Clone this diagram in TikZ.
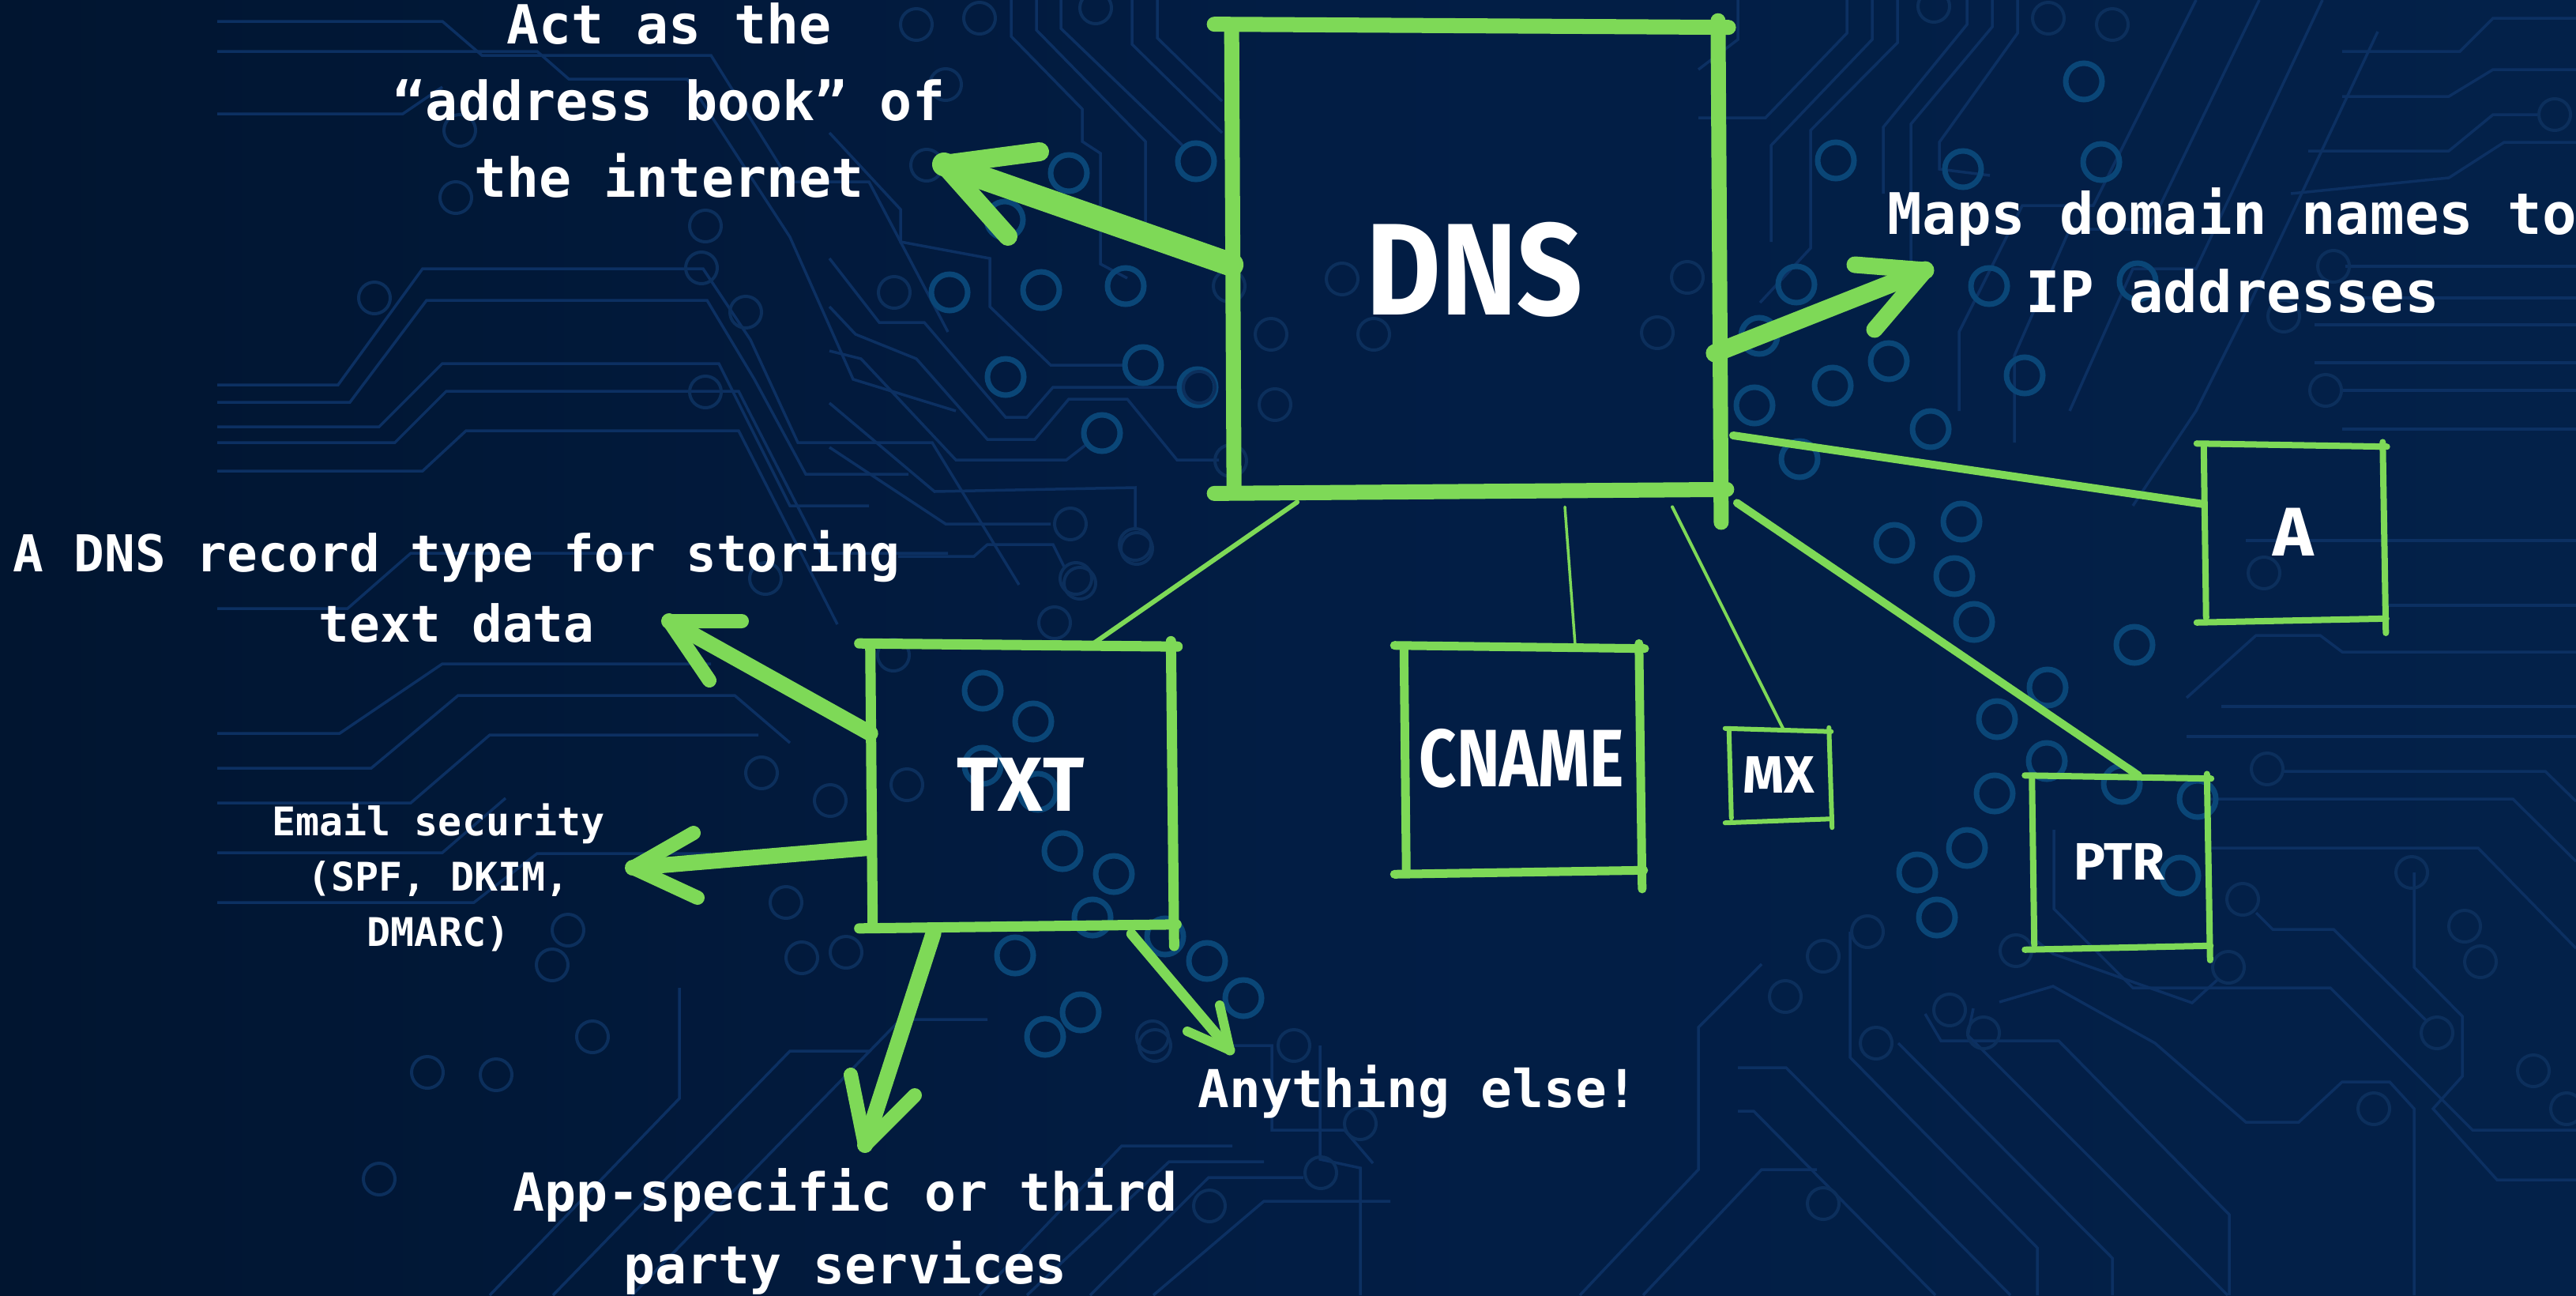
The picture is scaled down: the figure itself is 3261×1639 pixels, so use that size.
\documentclass[tikz,border=0pt]{standalone}
\usepackage{fontspec}
\usepackage{graphicx}
\usetikzlibrary{calc}
\newfontfamily\labfont{DejaVu Sans Mono}
\newfontfamily\boxfont{Fira Sans}
\definecolor{skgreen}{HTML}{7ED957}
\definecolor{bgL}{HTML}{011530}
\definecolor{bgM}{HTML}{021D44}
\definecolor{bgR}{HTML}{032149}
\definecolor{tracec}{HTML}{0C3062}
\definecolor{ringb}{HTML}{0A4677}
\definecolor{ringf}{HTML}{0C2F5C}
\newcommand\skbox[3]{%
  \draw[sk, line width=#2] ($(#1.north west)+(-#3,0)$) -- ($(#1.north east)+(0.6*#3,4)$);
  \draw[sk, line width=#2] ($(#1.south west)+(-#3,3)$) -- ($(#1.south east)+(0.5*#3,-2)$);
  \draw[sk, line width=#2] ($(#1.north west)+(0,3)$) -- ($(#1.south west)+(3,-3)$);
  \draw[sk, line width=#2] ($(#1.north east)+(0,-0.2*#3)$) -- ($(#1.south east)+(4,1.8*#3)$);
}
\begin{document}
\begin{tikzpicture}[x=0.01cm,y=-0.01cm,
  sk/.style={draw=skgreen, line cap=round, line join=round},
  conn/.style={draw=skgreen, line cap=round},
  arr/.style={draw=skgreen, line cap=round, line join=round},
  boxn/.style={inner sep=0pt, text=white, font=\boxfont\bfseries},
  lab/.style={inner sep=0pt, text=white, align=center},
  trc/.style={draw=tracec, line width=0.035cm},
  ringB/.style={draw=ringb, line width=0.07cm},
  ringF/.style={draw=ringf, line width=0.04cm}]
\useasboundingbox (0,0) rectangle (3261,1639);
\shade[left color=bgL, right color=bgR, middle color=bgM] (0,0) rectangle (3261,1639);

% ---------- circuit traces ----------
\foreach \p in {
 {(275,27) -- (560,27) -- (610,70) -- (900,70) -- (1000,230) -- (1100,230) -- (1200,420)},
 {(275,65) -- (680,65) -- (720,100) -- (870,100) -- (1000,300) -- (1080,480) -- (1210,520)},
 {(275,144) -- (510,144) -- (560,110)},
 {(275,487) -- (428,487) -- (535,340) -- (890,340) -- (950,430) -- (1010,560) -- (1180,560) -- (1290,740)},
 {(275,509) -- (443,509) -- (540,380) -- (895,380) -- (955,480) -- (1020,600) -- (1150,600)},
 {(275,540) -- (480,540) -- (560,460) -- (910,460) -- (1000,640) -- (1100,640)},
 {(275,560) -- (500,560) -- (565,495) -- (935,495) -- (1040,700) -- (1200,700)},
 {(275,596) -- (535,596) -- (590,545) -- (935,545) -- (1060,790)},
 {(275,770) -- (440,770) -- (520,700) -- (800,700)},
 {(275,928) -- (430,928) -- (560,840) -- (900,840)},
 {(275,972) -- (470,972) -- (580,880) -- (930,880) -- (1000,940)},
 {(275,1016) -- (520,1016) -- (620,930) -- (960,930)},
 {(275,1079) -- (560,1079) -- (640,1010)},
 {(275,1142) -- (600,1142) -- (680,1080) -- (900,1080)},
 {(1050,168) -- (1140,265) -- (1140,306) -- (1253,327) -- (1253,388) -- (1330,462) -- (1423,462)},
 {(1280,0) -- (1280,46) -- (1370,138) -- (1370,179) -- (1393,194) -- (1393,334) -- (1427,352)},
 {(1312,0) -- (1312,38) -- (1450,179) -- (1450,286)},
 {(1343,0) -- (1343,36) -- (1497,184)},
 {(1433,0) -- (1433,56) -- (1547,168)},
 {(1465,0) -- (1465,48) -- (1547,128)},
 {(1050,327) -- (1113,408) -- (1170,408) -- (1273,528) -- (1300,528) -- (1333,490) -- (1493,490)},
 {(1050,388) -- (1083,423) -- (1160,454) -- (1250,556) -- (1310,556) -- (1353,505) -- (1427,505) -- (1490,582) -- (1543,582)},
 {(1050,444) -- (1090,454) -- (1210,582) -- (1350,582) -- (1377,561)},
 {(1050,510) -- (1183,622) -- (1437,617) -- (1437,668)},
 {(1050,566) -- (1197,663) -- (1330,663)},
 {(1137,704) -- (1233,704) -- (1250,689) -- (1333,689) -- (1347,717)},
 {(2200,0) -- (2200,50) -- (2150,88)},
 {(2338,0) -- (2338,42) -- (2235,149) -- (2150,149)},
 {(2370,0) -- (2370,50) -- (2242,184) -- (2242,306)},
 {(2402,0) -- (2402,54) -- (2292,165) -- (2292,314) -- (2228,383)},
 {(2490,0) -- (2490,31) -- (2384,161) -- (2384,245)},
 {(2522,0) -- (2522,34) -- (2419,157) -- (2419,330)},
 {(2554,0) -- (2554,42) -- (2455,180) -- (2455,214) -- (2519,222)},
 {(2780,0) -- (2650,260) -- (2560,260) -- (2480,420) -- (2480,520)},
 {(2860,0) -- (2720,290) -- (2620,290) -- (2550,450) -- (2550,560)},
 {(2940,0) -- (2780,340) -- (2700,340) -- (2620,520)},
 {(3010,40) -- (2850,380) -- (2780,520) -- (2700,640)},
 {(2965,65) -- (3114,65) -- (3156,23) -- (3261,23)},
 {(2965,122) -- (3100,122) -- (3156,88) -- (3261,88)},
 {(2922,191) -- (3100,191) -- (3156,145) -- (3213,145)},
 {(2900,245) -- (3100,225) -- (3170,180) -- (3261,180)},
 {(2969,337) -- (3261,337)},
 {(2965,377) -- (3261,377)},
 {(2930,411) -- (3261,411)},
 {(2930,459) -- (3261,459)},
 {(2965,494) -- (3261,494)},
 {(2965,543) -- (3261,543)},
 {(2795,1011) -- (3181,1011) -- (3261,1090)},
 {(2890,976) -- (3222,976) -- (3261,1014)},
 {(2795,1073) -- (3137,1073) -- (3261,1200)},
 {(2812,894) -- (3261,894)},
 {(2768,932) -- (3261,932)},
 {(2843,684) -- (3261,684)},
 {(3022,766) -- (3261,766)},
 {(2768,883) -- (2856,804) -- (2937,804) -- (2965,825) -- (3261,825)},
 {(2856,1155) -- (2877,1176) -- (2954,1176) -- (3073,1293)},
 {(3056,1104) -- (3056,1224) -- (3117,1286) -- (3117,1362) -- (3080,1403) -- (3161,1493) -- (3261,1493)},
 {(2200,1406) -- (2220,1406) -- (2450,1639)},
 {(2200,1351) -- (2261,1351) -- (2545,1639)},
 {(2342,1179) -- (2342,1338) -- (2579,1579) -- (2579,1639)},
 {(2437,1283) -- (2457,1317) -- (2606,1317) -- (2822,1537) -- (2822,1639)},
 {(2531,1268) -- (2599,1248) -- (2728,1320) -- (2843,1420) -- (2910,1420) -- (2965,1369) -- (3025,1369) -- (3056,1403) -- (3056,1639)},
 {(2403,1320) -- (2674,1592) -- (2674,1639)},
 {(2572,1186) -- (2599,1207) -- (2775,1269) -- (2809,1238)},
 {(2498,1276) -- (2491,1310) -- (2820,1639)},
 {(2600,1050) -- (2600,1150) -- (2700,1250) -- (2950,1250) -- (3130,1430) -- (3261,1430)},
 {(1539,1323) -- (1610,1323) -- (1610,1430) -- (1702,1430) -- (1738,1472)},
 {(1671,1323) -- (1671,1467) -- (1722,1478) -- (1722,1639)},
 {(620,1639) -- (860,1390) -- (860,1250)},
 {(700,1639) -- (1000,1330) -- (1100,1330)},
 {(800,1639) -- (1140,1290) -- (1250,1290)},
 {(1240,1639) -- (1420,1450) -- (1560,1450)},
 {(1300,1639) -- (1480,1470) -- (1600,1470)},
 {(1380,1639) -- (1530,1490) -- (1650,1490)},
 {(1460,1639) -- (1600,1520) -- (1760,1520)},
 {(2000,1639) -- (2150,1480) -- (2150,1300) -- (2230,1220)},
 {(2080,1639) -- (2230,1480) -- (2300,1480)}
}{\draw[trc] \p;}

% ---------- circuit rings ----------
\foreach \x/\y in {1353/219,1272/278,1202/370,1318/367,1425/362,1273/477,1447/462,1516/490,1395/548,1514/204,
 2638/103,2324/203,2485/214,2660/205,2274/360,2518/362,2706/356,2227/425,2391/457,2320/488,2563/475,2221/513,2444/543,
 2278/581,2483/660,2398/687,2474/729,2499/787,2702/816,2592/870,2528/910,2591/963,2525/1004,2686/992,2782/1011,2490/1073,2427/1104,2452/1161,2760/1108,
 1244/874,1308/913,1244/969,1314/1002,1345/1077,1410/1106,1383/1161,1475/1185,1285/1209,1528/1216,1368/1281,1323/1312,1574/1263}
 {\draw[ringB] (\x,\y) circle (0.23cm);}
\foreach \x/\y in {1160/31,1240/23,1387/10,1197/107,1173/209,1132/370,1355/663,1437/689,1362/732,1335/788,1148/993,1462/1323,1638/1323,1672/1484,1722/1422,1531/1526,1131/829,
 969/732,1439/694,1367/738,964/978,1051/1013,995/1142,719/1177,1015/1212,1071/1205,699/1221,750/1312,541/1357,628/1360,1459/1312,480/1492,582/165,577/250,893/286,888/339,474/377,944/395,893/496,
 1699/353,1609/423,1739/423,1614/512,1518/490,2136/351,2098/421,1556/362,1558/583,
 2448/8,2593/23,2674/31,3234/145,2954/337,2891/400,2944/494,2866/725,2870/973,3053/1104,2839/1138,2364/1179,2308/1210,2260/1261,2552/1203,2821/1224,2468/1278,2511/1307,2375/1320,3085/1307,3140/1217,3120/1172,3207/1355,3005/1403,3249/1403,2308/1523}
 {\draw[ringF] (\x,\y) circle (0.2cm);}

% ---------- boxes ----------
\node[boxn, minimum width=6.14cm, minimum height=5.89cm, text height=1.48cm, font=\boxfont\bfseries\fontsize{47}{47}\selectfont] (dns) at (1867,326) {\scalebox{0.88}[1]{DNS}};
\node[boxn, minimum width=3.79cm, minimum height=3.56cm, font=\boxfont\bfseries\fontsize{27.6}{28}\selectfont] (txt) at (1292,993) {TXT};
\node[boxn, minimum width=2.96cm, minimum height=2.85cm, font=\boxfont\bfseries\fontsize{29.3}{30}\selectfont] (cname) at (1926,960) {\scalebox{0.8}[1]{CNAME}};
\node[boxn, minimum width=1.25cm, minimum height=1.15cm, font=\boxfont\bfseries\fontsize{18.9}{19}\selectfont] (mx) at (2252,980) {MX};
\node[boxn, minimum width=2.25cm, minimum height=2.22cm, font=\boxfont\bfseries\fontsize{24.8}{25}\selectfont] (a) at (2903,673) {A};
\node[boxn, minimum width=2.20cm, minimum height=2.16cm, font=\boxfont\bfseries\fontsize{18.9}{19}\selectfont] (ptr) at (2683,1090) {PTR};

\skbox{dns}{0.19cm}{22}
\skbox{txt}{0.13cm}{14}
\skbox{cname}{0.11cm}{12}
\skbox{mx}{0.06cm}{5}
\skbox{a}{0.08cm}{9}
\skbox{ptr}{0.08cm}{9}

% ---------- connectors ----------
\draw[conn, line width=0.06cm] ($(dns.south west)+(83,14)$) -- ($(txt.north east)+(-98,0)$);
\draw[conn, line width=0.035cm] ($(dns.south)+(114,20)$) -- ($(cname.north)+(68,0)$);
\draw[conn, line width=0.04cm] ($(dns.south)+(250,20)$) -- ($(mx.north)+(5,0)$);
\draw[conn, line width=0.1cm] ($(dns.east)+(19,225)$) -- ($(a.west)+(0,-35)$);
\draw[conn, line width=0.1cm] ($(dns.south east)+(24,15)$) -- ($(ptr.north)+(24,0)$);

% ---------- arrows ----------
\coordinate (t1) at (1195,208); \coordinate (b1a) at (1316,192); \coordinate (b1b) at (1276,299);
\draw[arr, line width=0.3cm] ($(dns.west)+(0,9)$) -- (t1);
\draw[arr, line width=0.24cm] (b1a) -- (t1) -- (b1b);

\coordinate (t2) at (2437,342); \coordinate (b2a) at (2348,335); \coordinate (b2b) at (2373,417);
\draw[arr, line width=0.23cm] ($(dns.east)+(-4,121)$) -- (t2);
\draw[arr, line width=0.21cm] (b2a) -- (t2) -- (b2b);

\coordinate (t3) at (847,786); \coordinate (b3a) at (939,786); \coordinate (b3b) at (898,861);
\draw[arr, line width=0.2cm] ($(txt.west)+(0,-65)$) -- (t3);
\draw[arr, line width=0.18cm] (b3a) -- (t3) -- (b3b);

\coordinate (t4) at (801,1098); \coordinate (b4a) at (878,1054); \coordinate (b4b) at (883,1136);
\draw[arr, line width=0.2cm] ($(txt.west)+(-2,80)$) -- (t4);
\draw[arr, line width=0.18cm] (b4a) -- (t4) -- (b4b);

\coordinate (t5) at (1095,1449); \coordinate (b5a) at (1077,1360); \coordinate (b5b) at (1158,1386);
\draw[arr, line width=0.2cm] ($(txt.south west)+(80,9)$) -- (t5);
\draw[arr, line width=0.18cm] (b5a) -- (t5) -- (b5b);

\coordinate (t6) at (1557,1329); \coordinate (b6a) at (1503,1305); \coordinate (b6b) at (1544,1272);
\draw[arr, line width=0.13cm] ($(txt.south east)+(-50,10)$) -- (t6);
\draw[arr, line width=0.12cm] (b6a) -- (t6) -- (b6b);

% ---------- labels ----------
\node[lab, font=\labfont\bfseries\fontsize{19.4}{27.6}\selectfont] (laddr) at (847,127) {Act as the\\“address book” of\\the internet};
\node[lab, font=\labfont\bfseries\fontsize{20.6}{27.9}\selectfont] (lmaps) at (2826,317) {Maps domain names to\\IP addresses};
\node[lab, font=\labfont\bfseries\fontsize{18.3}{25.3}\selectfont] (lrec) at (578,742) {A DNS record type for storing\\text data};
\node[lab, font=\labfont\bfseries\fontsize{14.2}{19.9}\selectfont] (lmail) at (555,1110) {Email security\\(SPF, DKIM,\\DMARC)};
\node[lab, font=\labfont\bfseries\fontsize{18.9}{26.2}\selectfont] (lapp) at (1070,1558) {App-specific or third\\party services};
\node[lab, font=\labfont\bfseries\fontsize{18.8}{20}\selectfont] (lany) at (1795,1381) {Anything else!};
\end{tikzpicture}
\end{document}
